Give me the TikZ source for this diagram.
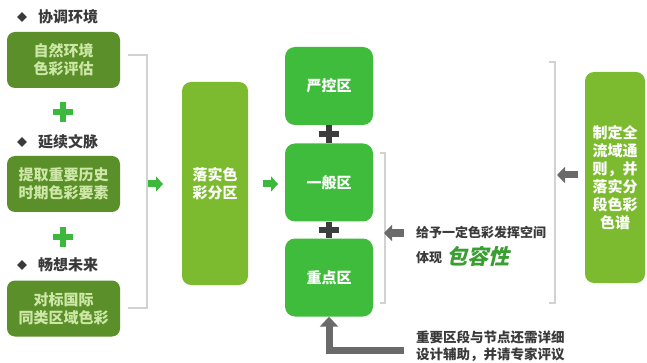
\documentclass[tikz,border=0pt]{standalone}
\usepackage{fontspec}
\setmainfont{Noto Sans CJK SC}
\newfontfamily\slantcjk{Noto Sans CJK SC}[FakeSlant=0.25]
\usetikzlibrary{arrows.meta,shapes.geometric}
\definecolor{olivebox}{HTML}{5B8F2A}
\definecolor{olivetxt}{HTML}{CDE8A6}
\definecolor{ygreen}{HTML}{7CBB2F}
\definecolor{bgreen}{HTML}{3FBC3C}
\definecolor{plusgreen}{HTML}{3CB83C}
\definecolor{darkplus}{HTML}{3D3D3D}
\definecolor{greyarrow}{HTML}{6A6A6A}
\definecolor{txtdark}{HTML}{3A3A3A}
\definecolor{bracketgrey}{HTML}{D2D2D2}
\definecolor{slantgreen}{HTML}{3A9E32}
\tikzset{
  leftbox/.style={rounded corners=8pt, fill=olivebox, text=olivetxt, minimum width=113pt, minimum height=56pt, inner sep=0pt, align=center, font=\bfseries\fontsize{15}{18}\selectfont},
  midbox/.style={rounded corners=9pt, fill=ygreen, text=white, inner sep=0pt, align=center, font=\bfseries\fontsize{15}{18}\selectfont},
  zonebox/.style={rounded corners=10pt, fill=bgreen, text=white, minimum width=88pt, minimum height=78pt, inner sep=0pt, align=center, font=\bfseries\fontsize{15}{18}\selectfont},
  headtxt/.style={anchor=west, text=txtdark, inner sep=0pt, font=\bfseries\fontsize{15}{16}\selectfont},
  bullet/.style={diamond, fill=txtdark, minimum size=10pt, inner sep=0pt},
  plusnode/.style={minimum size=19pt, inner sep=0pt},
  plusg/.style={draw=plusgreen, line width=5.5pt},
  plusd/.style={draw=darkplus, line width=5.5pt},
  bracketline/.style={draw=bracketgrey, line width=1.6pt},
  greenarrow/.style={draw=plusgreen, line width=7pt, -{Triangle[length=7pt,width=15pt]}},
  greyarr/.style={draw=greyarrow, line width=7pt, -{Triangle[length=8pt,width=16pt]}},
  notetxt/.style={anchor=west, text=txtdark, inner sep=0pt, font=\bfseries\fontsize{13.5}{16}\selectfont},
}
\begin{document}
\begin{tikzpicture}[x=1pt,y=-1pt]
\useasboundingbox (0,0) rectangle (647,363);
% left column
\node[bullet] (d1) at (22,17) {};
\node[headtxt] (h1) at (38,17) {协调环境};
\node[leftbox] (b1) at (63.5,60) {自然环境\\色彩评估};
\node[plusnode] (p1) at (63,112) {};
\draw[plusg] (p1.west) -- (p1.east) (p1.north) -- (p1.south);
\node[bullet] (d2) at (22,142) {};
\node[headtxt] (h2) at (38,142) {延续文脉};
\node[leftbox] (b2) at (63.5,184) {提取重要历史\\时期色彩要素};
\node[plusnode] (p2) at (63,237) {};
\draw[plusg] (p2.west) -- (p2.east) (p2.north) -- (p2.south);
\node[bullet] (d3) at (22,265) {};
\node[headtxt] (h3) at (38,265) {畅想未来};
\node[leftbox] (b3) at (63.5,308.5) {对标国际\\同类区域色彩};
% left bracket
\coordinate (lb1) at (128,55);
\coordinate (lb2) at (147,55);
\coordinate (lb3) at (147,308);
\coordinate (lb4) at (128,308);
\draw[bracketline] (lb1) -- (lb2) -- (lb3) -- (lb4);
\coordinate (a1s) at (148,184);
\coordinate (a1e) at (163,184);
\draw[greenarrow] (a1s) -- (a1e);
% middle box
\node[midbox, minimum width=66pt, minimum height=203pt] (mid) at (215,183.5) {落实色\\彩分区};
\coordinate (a2s) at (263,184);
\coordinate (a2e) at (278,184);
\draw[greenarrow] (a2s) -- (a2e);
% zone boxes
\node[zonebox] (z1) at (329,86) {严控区};
\node[zonebox] (z2) at (329,182.5) {一般区};
\node[zonebox] (z3) at (329,277.5) {重点区};
\node[plusnode] (q1) at (329,134) {};
\draw[plusd] (q1.west) -- (q1.east) (z1.south) -- (z2.north);
\node[plusnode] (q2) at (329,230) {};
\draw[plusd] (q2.west) -- (q2.east) (z2.south) -- (z3.north);
% inner bracket
\coordinate (ib1) at (380,153);
\coordinate (ib2) at (385,153);
\coordinate (ib3) at (385,303);
\coordinate (ib4) at (380,303);
\draw[bracketline] (ib1) -- (ib2) -- (ib3) -- (ib4);
\coordinate (g1s) at (404,233);
\coordinate (g1e) at (384,233);
\draw[greyarr] (g1s) -- (g1e);
\node[notetxt, font=\bfseries\fontsize{13}{16}\selectfont] (t1) at (416,232) {给予一定色彩发挥空间};
\node[notetxt, font=\bfseries\fontsize{13}{16}\selectfont] (t2) at (416,258) {体现};
\node[anchor=west, inner sep=0pt, text=slantgreen, font=\slantcjk\bfseries\fontsize{21}{24}\selectfont] (t3) at (446,256) {包容性};
% outer bracket
\coordinate (ob1) at (549,62);
\coordinate (ob2) at (555,62);
\coordinate (ob3) at (555,303);
\coordinate (ob4) at (549,303);
\draw[bracketline] (ob1) -- (ob2) -- (ob3) -- (ob4);
\coordinate (g2s) at (578,175);
\coordinate (g2e) at (557,175);
\draw[greyarr] (g2s) -- (g2e);
% right box
\node[midbox, minimum width=60pt, minimum height=211pt] (rb) at (615,177.5) {制定全\\流域通\\则，并\\落实分\\段色彩\\色谱};
% bottom elbow arrow
\coordinate (e1) at (404,350);
\draw[draw=greyarrow, line width=7pt, -{Triangle[length=10pt,width=18pt]}] (e1) -| (z3.south);
\node[notetxt] (t4) at (416,337) {重要区段与节点还需详细};
\node[notetxt] (t5) at (416,355) {设计辅助，并请专家评议};
\end{tikzpicture}
\end{document}
